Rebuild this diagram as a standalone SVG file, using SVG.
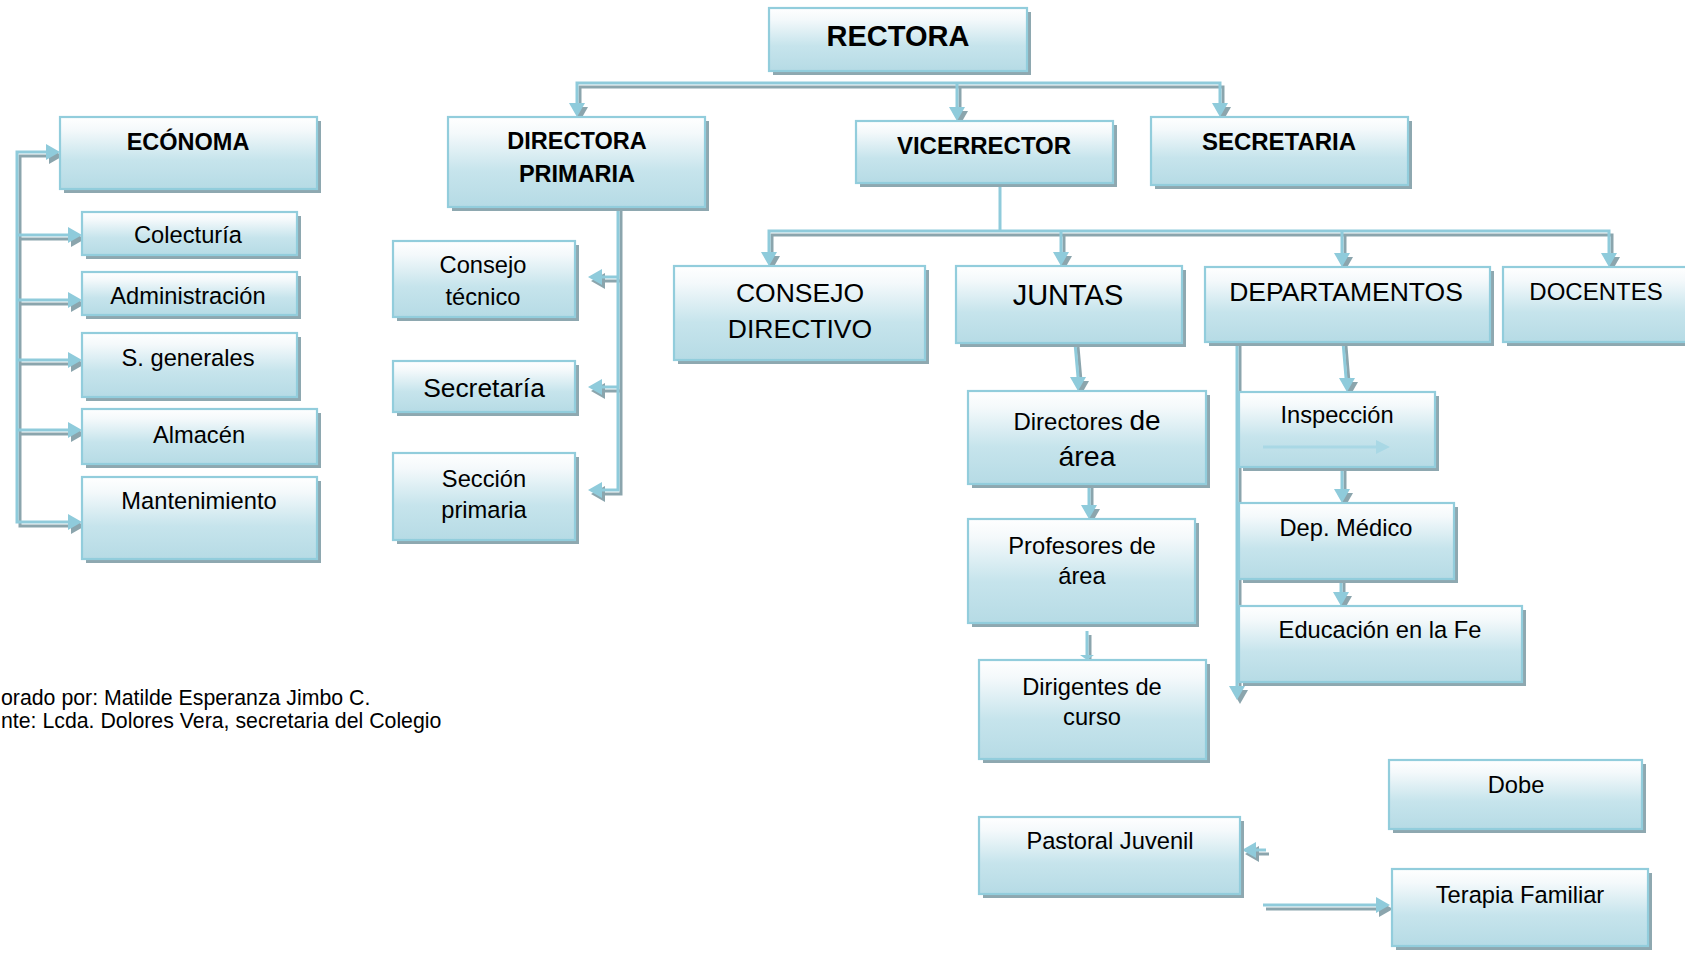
<svg xmlns="http://www.w3.org/2000/svg" xmlns:xlink="http://www.w3.org/1999/xlink" width="1685" height="953" viewBox="0 0 1685 953">
<style>
  text{font-family:"Liberation Sans",Arial,sans-serif;fill:#000;text-anchor:middle}
  .b{font-weight:bold}
  .f{font-size:23.7px}
  .sh{fill:#8ea8b0}
  .bx{fill:url(#grad);stroke:#92cddc;stroke-width:2.2}
  use.wb{fill:none;stroke:#8fcbdb;stroke-width:3}
  use.ws{fill:none;stroke:#8ba5ad;stroke-width:3}
  use.hb{fill:#8fcbdb;stroke:none}
  use.hs{fill:#8ba5ad;stroke:none}
  .cap{font-size:21.3px;text-anchor:start}
</style>
<defs>
  <linearGradient id="grad" x1="0" y1="0" x2="0" y2="1">
    <stop offset="0" stop-color="#ffffff"/>
    <stop offset="0.18" stop-color="#f4f9fb"/>
    <stop offset="0.6" stop-color="#c6e4ec"/>
    <stop offset="1" stop-color="#b6dbe5"/>
  </linearGradient>
  <g id="wires">
    <path d="M577,104 V83 H1220 V104 M957,83 V107"/>
    <path d="M769,252 V231 H1609 V253 M1061,231 V252 M1342,231 V253"/>
    <path d="M46,152 H17 V522 H68 M17,235 H68 M17,300 H68 M17,360 H68 M17,430 H68"/>
    <path d="M618,207 V490 H602 M618,277 H602 M618,387 H602"/>
    <path d="M1075,343 L1078,377 M1089,484 V505 M1087,631 V657"/>
    <path d="M1343,342 L1346,378 M1342,467 V489 M1341,579 V592 M1237,342 V686"/>
    <path d="M1266,850 H1256 M1263,905 H1376"/>
  </g>
  <g id="heads">
    <polygon points="569,103 585,103 577,117"/>
    <polygon points="949,107 965,107 957,121"/>
    <polygon points="1212,103 1228,103 1220,117"/>
    <polygon points="761,252 777,252 769,266"/>
    <polygon points="1053,252 1069,252 1061,266"/>
    <polygon points="1334,253 1350,253 1342,267"/>
    <polygon points="1601,253 1617,253 1609,267"/>
    <polygon points="46,144 46,160 60,152"/>
    <polygon points="68,227 68,243 82,235"/>
    <polygon points="68,292 68,308 82,300"/>
    <polygon points="68,352 68,368 82,360"/>
    <polygon points="68,422 68,438 82,430"/>
    <polygon points="68,514 68,530 82,522"/>
    <polygon points="602,269 602,285 588,277"/>
    <polygon points="602,379 602,395 588,387"/>
    <polygon points="602,482 602,498 588,490"/>
    <polygon points="1070,377 1086,377 1078,391"/>
    <polygon points="1081,505 1097,505 1089,519"/>
    <polygon points="1080,655 1094,655 1087,660"/>
    <polygon points="1339,378 1355,378 1347,392"/>
    <polygon points="1334,489 1350,489 1342,503"/>
    <polygon points="1333,592 1349,592 1341,606"/>
    <polygon points="1229,686 1245,686 1237,700"/>
    <polygon points="1256,842 1256,858 1242,850"/>
    <polygon points="1376,897 1376,913 1390,905"/>
  </g>
</defs>

<g id="connectors">
  <g transform="translate(3,4)">
    <use xlink:href="#wires" href="#wires" class="ws"/>
    <use xlink:href="#heads" href="#heads" class="hs"/>
  </g>
  <use xlink:href="#wires" href="#wires" class="wb"/>
  <use xlink:href="#heads" href="#heads" class="hb"/>
  <path d="M1000,183 V231" fill="none" stroke="#8fcbdb" stroke-width="3"/>
</g>

<g id="n-rectora"><rect class="sh" x="773" y="12" width="258" height="63"/><rect class="bx" x="769" y="8" width="258" height="63"/><text class="b" x="898" y="46" font-size="29">RECTORA</text></g>
<g id="n-directora"><rect class="sh" x="452" y="121" width="257" height="90"/><rect class="bx" x="448" y="117" width="257" height="90"/><text class="b" x="577" y="149" font-size="23.5">DIRECTORA</text><text class="b" x="577" y="182" font-size="23.5">PRIMARIA</text></g>
<g id="n-vicerrector"><rect class="sh" x="860" y="125" width="257" height="62"/><rect class="bx" x="856" y="121" width="257" height="62"/><text class="b" x="984" y="154" font-size="24">VICERRECTOR</text></g>
<g id="n-secretaria"><rect class="sh" x="1155" y="121" width="257" height="68"/><rect class="bx" x="1151" y="117" width="257" height="68"/><text class="b" x="1279" y="150" font-size="24">SECRETARIA</text></g>

<g id="n-economa"><rect class="sh" x="64" y="121" width="257" height="72"/><rect class="bx" x="60" y="117" width="257" height="72"/><text class="b" x="188" y="150" font-size="23.5">ECÓNOMA</text></g>
<g id="n-colecturia"><rect class="sh" x="86" y="216" width="215" height="43"/><rect class="bx" x="82" y="212" width="215" height="43"/><text class="f" x="188" y="243">Colecturía</text></g>
<g id="n-administracion"><rect class="sh" x="86" y="276" width="215" height="43"/><rect class="bx" x="82" y="272" width="215" height="43"/><text class="f" x="188" y="304">Administración</text></g>
<g id="n-sgenerales"><rect class="sh" x="86" y="337" width="215" height="64"/><rect class="bx" x="82" y="333" width="215" height="64"/><text class="f" x="188" y="366">S. generales</text></g>
<g id="n-almacen"><rect class="sh" x="86" y="413" width="235" height="55"/><rect class="bx" x="82" y="409" width="235" height="55"/><text class="f" x="199" y="443">Almacén</text></g>
<g id="n-mantenimiento"><rect class="sh" x="86" y="481" width="235" height="82"/><rect class="bx" x="82" y="477" width="235" height="82"/><text class="f" x="199" y="509">Mantenimiento</text></g>

<g id="n-consejo-tecnico"><rect class="sh" x="397" y="245" width="182" height="76"/><rect class="bx" x="393" y="241" width="182" height="76"/><text class="f" x="483" y="273">Consejo</text><text class="f" x="483" y="305">técnico</text></g>
<g id="n-secretaria2"><rect class="sh" x="397" y="365" width="182" height="51"/><rect class="bx" x="393" y="361" width="182" height="51"/><text x="484" y="397" font-size="26.4">Secretaría</text></g>
<g id="n-seccion"><rect class="sh" x="397" y="457" width="182" height="87"/><rect class="bx" x="393" y="453" width="182" height="87"/><text class="f" x="484" y="487">Sección</text><text class="f" x="484" y="518">primaria</text></g>

<g id="n-consejo-directivo"><rect class="sh" x="678" y="270" width="251" height="94"/><rect class="bx" x="674" y="266" width="251" height="94"/><text x="800" y="302" font-size="26.5">CONSEJO</text><text x="800" y="338" font-size="26.5">DIRECTIVO</text></g>
<g id="n-juntas"><rect class="sh" x="960" y="270" width="226" height="77"/><rect class="bx" x="956" y="266" width="226" height="77"/><text x="1068" y="305" font-size="29">JUNTAS</text></g>
<g id="n-departamentos"><rect class="sh" x="1209" y="271" width="285" height="75"/><rect class="bx" x="1205" y="267" width="285" height="75"/><text x="1346" y="301" font-size="26.5">DEPARTAMENTOS</text></g>
<g id="n-docentes"><rect class="sh" x="1507" y="271" width="200" height="75"/><rect class="bx" x="1503" y="267" width="200" height="75"/><text x="1596" y="300" font-size="24">DOCENTES</text></g>

<g id="n-directores"><rect class="sh" x="972" y="395" width="238" height="93"/><rect class="bx" x="968" y="391" width="238" height="93"/><text x="1087" y="430"><tspan font-size="24">Directores </tspan><tspan font-size="28">de</tspan></text><text x="1087" y="466" font-size="28.5">área</text></g>
<g id="n-profesores"><rect class="sh" x="972" y="523" width="227" height="104"/><rect class="bx" x="968" y="519" width="227" height="104"/><text class="f" x="1082" y="554">Profesores de</text><text class="f" x="1082" y="584">área</text></g>
<g id="n-dirigentes"><rect class="sh" x="983" y="664" width="227" height="99"/><rect class="bx" x="979" y="660" width="227" height="99"/><text class="f" x="1092" y="695">Dirigentes de</text><text class="f" x="1092" y="725">curso</text></g>

<g id="n-inspeccion"><rect class="sh" x="1243" y="396" width="196" height="75"/><rect class="bx" x="1239" y="392" width="196" height="75"/><text class="f" x="1337" y="423">Inspección</text><g fill="#a9d8e5" stroke="#a9d8e5"><path d="M1263,447 H1376" fill="none" stroke-width="3"/><polygon points="1376,440 1376,454 1390,447" stroke="none"/></g></g>
<g id="n-medico"><rect class="sh" x="1243" y="507" width="215" height="76"/><rect class="bx" x="1239" y="503" width="215" height="76"/><text class="f" x="1346" y="536">Dep. Médico</text></g>
<g id="n-educacion"><rect class="sh" x="1243" y="610" width="283" height="76"/><rect class="bx" x="1239" y="606" width="283" height="76"/><text class="f" x="1380" y="638">Educación en la Fe</text></g>

<g id="n-dobe"><rect class="sh" x="1393" y="764" width="253" height="69"/><rect class="bx" x="1389" y="760" width="253" height="69"/><text class="f" x="1516" y="793">Dobe</text></g>
<g id="n-pastoral"><rect class="sh" x="983" y="821" width="261" height="77"/><rect class="bx" x="979" y="817" width="261" height="77"/><text class="f" x="1110" y="849">Pastoral Juvenil</text></g>
<g id="n-terapia"><rect class="sh" x="1396" y="873" width="256" height="77"/><rect class="bx" x="1392" y="869" width="256" height="77"/><text class="f" x="1520" y="903">Terapia Familiar</text></g>

<g id="caption">
  <text class="cap" x="1" y="705">orado por: Matilde Esperanza Jimbo C.</text>
  <text class="cap" x="1" y="728">nte: Lcda. Dolores Vera, secretaria del Colegio</text>
</g>
</svg>
